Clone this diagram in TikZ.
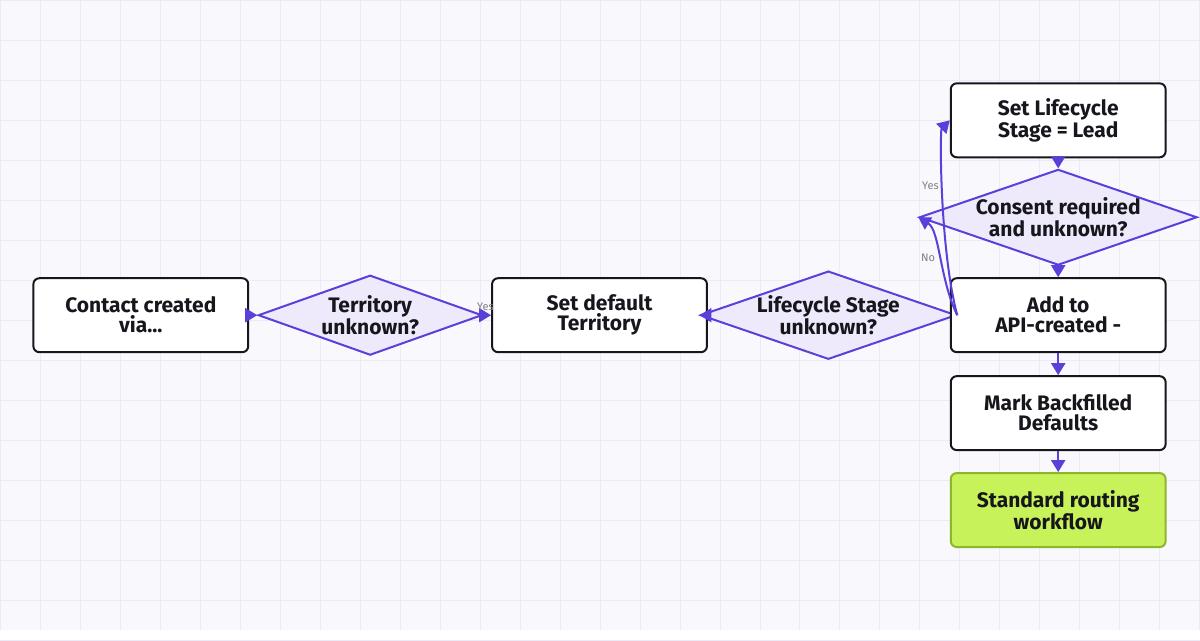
\documentclass[tikz,border=0pt]{standalone}
\usepackage{fontspec}
\setmainfont{Fira Sans}
\usetikzlibrary{shapes.geometric,arrows.meta}
\definecolor{bg}{HTML}{F9F8FD}
\definecolor{grid}{HTML}{ECEAF7}
\definecolor{pur}{HTML}{5B3FD9}
\definecolor{dfill}{HTML}{EEEAFB}
\definecolor{ink}{HTML}{16161D}
\definecolor{gfill}{HTML}{C8F25A}
\definecolor{gline}{HTML}{8DB62A}
\begin{document}
\begin{tikzpicture}[x=1pt,y=-1pt,
 box/.style={draw=ink,line width=2pt,fill=white,rounded corners=6pt,minimum width=215pt,minimum height=74pt,align=center,font=\bfseries\fontsize{21}{20}\selectfont,text=ink,inner sep=2pt},
 dia/.style={draw=pur,line width=2pt,fill=dfill,diamond,aspect=2.9,inner sep=0pt,align=center,font=\bfseries\fontsize{21}{20}\selectfont,text=ink},
 arr/.style={draw=pur,line width=2pt,-{Triangle[length=12pt,width=14pt]}},
 lab/.style={font=\fontsize{11}{11}\selectfont,text=gray}]
\fill[bg] (0,0) rectangle (1200,630);
\foreach \x in {0,40,...,1200} \draw[grid,line width=0.8pt] (\x,0)--(\x,630);
\foreach \y in {0,40,...,640} \draw[grid,line width=0.8pt] (0,\y)--(1200,\y);
\useasboundingbox (0,0) rectangle (1200,630);
\node[box] (c) at (140.5,315) {Contact created\\via...};
\node[dia,minimum width=224pt,minimum height=80pt] (t) at (370,315) {Territory\\unknown?};
\node[box] (s) at (599.5,315) {Set default\\Territory};
\node[dia,minimum width=233pt,minimum height=80pt] (l) at (828.5,315) {Lifecycle Stage\\unknown?};
\node[box,minimum height=74pt] (sl) at (1058.5,120) {Set Lifecycle\\Stage = Lead};
\node[dia,minimum width=227pt,minimum height=78pt] (cr) at (1058.5,217) {Consent required\\and unknown?};
\node[box] (a) at (1058.5,315) {Add to\\API-created -};
\node[box] (m) at (1058.5,413) {Mark Backfilled\\Defaults};
\node[box,draw=gline,fill=gfill] (g) at (1058.5,510) {Standard routing\\workflow};
\draw[arr] (c.east) -- (t.west);
\draw[arr] (t.east) -- node[lab,above,pos=0.3]{Yes} (s.west);
\draw[arr] (s.east) -- (l.west);
\draw[arr] (l.east) .. controls (940,250) and (940,130) .. node[lab,pos=0.55,left]{Yes} (sl.west);
\draw[arr] (l.east) .. controls (940,280) and (940,230) .. node[lab,pos=0.5,left]{No} (cr.west);
\draw[arr] (sl.south) -- (cr.north);
\draw[arr] (cr.south) -- (a.north);
\draw[arr] (a.south) -- (m.north);
\draw[arr] (m.south) -- (g.north);
\end{tikzpicture}
\end{document}
